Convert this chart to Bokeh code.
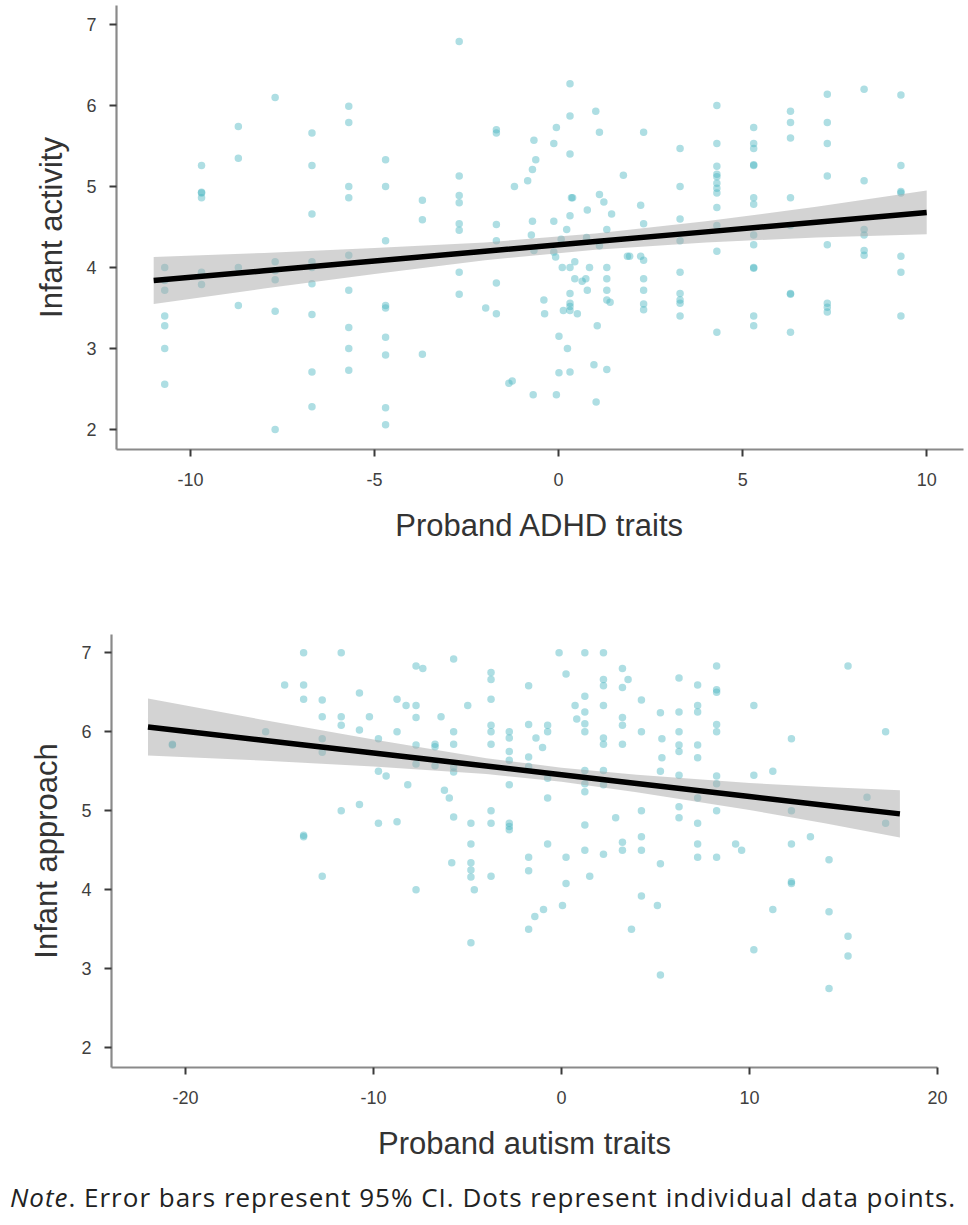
from bokeh.plotting import figure
from bokeh.models import Range1d, FixedTicker, Div
from bokeh.embed import file_html
from bokeh.resources import INLINE

# ---------------- data: panel 1 (ADHD traits vs infant activity) ----------------
adhd_x = (
    [-10.7] * 7 + [-9.7] * 6 + [-8.7] * 4 + [-7.7] * 6 + [-6.7] * 9 + [-5.7] * 9
    + [-4.7] * 9 + [-3.7] * 3 + [-2.7] * 8
    + [-1.98, -1.69, -1.69, -1.69, -1.69, -1.69, -1.69,
       -1.35, -1.26, -1.20, -0.84, -0.71, -0.67, -0.62, -0.71, -0.74, -0.67, -0.69,
       -0.40, -0.38, -0.13, -0.06, -0.13, -0.13, -0.08, -0.06,
       0.01, 0.01, 0.07, 0.10, 0.13, 0.22, 0.24,
       0.31, 0.31, 0.31, 0.35, 0.38, 0.31, 0.31, 0.31, 0.31, 0.31, 0.31, 0.31,
       0.44, 0.44, 0.51, 0.64, 0.74, 0.76, 0.78, 0.78, 0.84,
       0.96, 1.01, 1.02, 1.05, 1.11, 1.11, 1.11, 1.23,
       1.31, 1.31, 1.31, 1.31, 1.31, 1.31, 1.40, 1.44,
       1.76, 1.87, 1.93, 2.23, 2.23,
       2.31, 2.31, 2.31, 2.31, 2.31, 2.31, 2.31]
    + [3.3] * 9 + [4.3] * 12 + [5.3] * 13 + [6.3] * 8 + [7.3] * 8 + [8.3] * 6 + [9.3] * 7
)
activity_y = (
    [4.00, 3.84, 3.72, 3.40, 3.28, 3.00, 2.56]
    + [5.26, 4.93, 4.92, 4.86, 3.94, 3.79]
    + [5.74, 5.35, 4.00, 3.53]
    + [6.10, 4.07, 3.96, 3.85, 3.46, 2.00]
    + [5.66, 5.26, 4.66, 4.07, 4.00, 3.80, 3.42, 2.71, 2.28]
    + [5.99, 5.79, 5.00, 4.86, 4.15, 3.72, 3.26, 3.00, 2.73]
    + [5.33, 5.00, 4.33, 3.53, 3.50, 3.14, 2.92, 2.27, 2.06]
    + [4.83, 4.59, 2.93]
    + [6.79, 5.13, 4.89, 4.80, 4.54, 4.46, 3.94, 3.67]
    + [3.50, 5.70, 5.66, 4.53, 4.33, 3.81, 3.43,
       2.57, 2.60, 5.00, 5.07, 5.21, 5.57, 5.33, 4.57, 4.40, 4.21, 2.43,
       3.60, 3.43, 5.53, 5.73, 4.57, 4.19, 4.13, 2.43,
       3.15, 2.70, 4.35, 4.00, 3.47, 4.47, 3.00,
       6.27, 5.87, 5.40, 4.86, 4.86, 4.64, 4.00, 3.68, 3.56, 3.52, 3.47, 2.71,
       4.07, 3.86, 3.43, 3.83, 3.86, 4.37, 4.71, 3.72, 4.00,
       2.80, 5.93, 2.34, 3.28, 5.67, 4.90, 4.27, 4.81,
       4.47, 4.00, 3.86, 3.72, 3.60, 2.74, 3.57, 4.66,
       5.14, 4.14, 4.14, 4.77, 4.14,
       5.67, 4.54, 4.09, 3.86, 3.72, 3.55, 3.48]
    + [5.47, 5.00, 4.60, 4.33, 3.94, 3.68, 3.60, 3.56, 3.40]
    + [6.00, 5.53, 5.25, 5.15, 5.12, 5.04, 4.98, 4.92, 4.74, 4.52, 4.20, 3.20]
    + [5.73, 5.53, 5.47, 5.27, 5.26, 4.86, 4.78, 4.40, 4.28, 4.00, 3.99, 3.40, 3.28]
    + [5.93, 5.79, 5.60, 4.86, 4.52, 3.68, 3.67, 3.20]
    + [6.14, 5.79, 5.53, 5.13, 4.28, 3.56, 3.51, 3.45]
    + [6.20, 5.07, 4.47, 4.40, 4.21, 4.15]
    + [6.13, 5.26, 4.94, 4.92, 4.14, 3.94, 3.40]
)

# fitted line and 95% CI band
fit1_x = [-11, -8, -5, -2, 1, 4, 7, 10]
fit1_y = [3.84, 3.96, 4.08, 4.20, 4.32, 4.44, 4.56, 4.68]
fit1_lo = [3.55, 3.74, 3.92, 4.09, 4.22, 4.31, 4.37, 4.41]
fit1_hi = [4.13, 4.18, 4.24, 4.31, 4.42, 4.57, 4.75, 4.95]

# ---------------- data: panel 2 (autism traits vs infant approach) ----------------
autism_x = [
    -20.7, -20.7, -15.74, -14.73,
    -13.72, -13.72, -13.72, -13.72, -13.72,
    -12.73, -12.73, -12.73, -12.73, -12.73,
    -11.72, -11.72, -11.72, -11.72,
    -10.75, -10.75, -10.75, -10.22,
    -9.74, -9.74, -9.74, -9.33,
    -8.75, -8.75, -8.75, -8.27, -8.18,
    -7.74, -7.74, -7.74, -7.74, -7.74, -7.74, -7.38,
    -6.73, -6.73, -6.73, -6.41, -6.23, -5.97,
    -5.74, -5.74, -5.74, -5.74, -5.74, -5.74, -5.84,
    -4.99,
    -4.82, -4.82, -4.82, -4.82, -4.82, -4.82, -4.64,
    -3.75, -3.75, -3.75, -3.75, -3.75, -3.75, -3.75, -3.75, -3.75,
    -2.78, -2.78, -2.78, -2.78, -2.78, -2.78, -2.78, -2.78,
    -1.75, -1.75, -1.75, -1.75, -1.75, -1.75, -1.75,
    -1.42, -0.96, -1.36, -1.01,
    -0.74, -0.74, -0.74, -0.74, -0.74,
    -0.13, 0.05, 0.24, 0.24, 0.24, 0.72, 0.81,
    1.24, 1.24, 1.24, 1.24, 1.24, 1.24, 1.24, 1.24, 1.24, 1.24,
    1.50,
    2.23, 2.23, 2.23, 2.23, 2.23, 2.23, 2.23, 2.23, 2.23,
    2.88,
    3.24, 3.24, 3.24, 3.24, 3.24, 3.24, 3.24,
    3.54, 3.72,
    4.25, 4.25, 4.25, 4.25, 4.25, 4.25,
    5.10, 5.26, 5.26, 5.26, 5.26, 5.34, 5.34,
    6.25, 6.25, 6.25, 6.25, 6.25, 6.25, 6.25, 6.25,
    7.24, 7.24, 7.24, 7.24, 7.24, 7.24, 7.24, 7.24, 7.24,
    8.25, 8.25, 8.25, 8.25, 8.25, 8.25, 8.25, 8.25, 8.25,
    9.26, 9.58,
    10.23, 10.23, 10.23, 11.24, 11.24,
    12.23, 12.23, 12.23, 12.23, 12.23,
    13.24, 14.23, 14.23, 14.23,
    15.24, 15.24, 15.24, 16.25, 17.24, 17.24,
]
approach_y = [
    5.83, 5.84, 6.00, 6.59,
    7.00, 6.59, 6.41, 4.69, 4.67,
    6.40, 6.19, 5.91, 5.74, 4.17,
    7.00, 6.19, 6.08, 5.00,
    6.49, 6.02, 5.08, 6.19,
    5.91, 5.50, 4.84, 5.44,
    6.41, 6.00, 4.86, 6.33, 5.33,
    6.83, 6.33, 6.18, 5.83, 5.59, 4.00, 6.80,
    5.84, 5.81, 5.57, 6.19, 5.26, 5.16,
    6.92, 6.00, 5.84, 5.55, 5.49, 4.92, 4.34,
    6.33,
    4.84, 4.58, 4.34, 4.25, 4.16, 3.33, 4.00,
    6.75, 6.66, 6.41, 6.08, 6.00, 5.84, 5.00, 4.84, 4.17,
    6.00, 5.92, 5.75, 5.64, 5.33, 4.84, 4.80, 4.76,
    6.58, 6.09, 5.68, 5.56, 4.41, 4.24, 3.50,
    3.66, 3.75, 5.92, 5.80,
    6.08, 6.00, 5.41, 5.16, 4.58,
    7.00, 3.80, 6.73, 4.41, 4.08, 6.33, 6.16,
    7.00, 6.45, 6.25, 6.10, 6.00, 5.51, 5.34, 5.24, 4.82, 4.50,
    4.17,
    7.00, 6.66, 6.58, 6.33, 5.92, 5.84, 5.51, 5.33, 4.45,
    4.91,
    6.80, 6.56, 6.18, 6.08, 5.84, 4.60, 4.50,
    6.66, 3.50,
    6.40, 6.00, 5.00, 4.67, 4.50, 3.92,
    3.80, 6.24, 5.50, 4.33, 2.92, 5.91, 5.67,
    6.68, 6.25, 6.00, 5.83, 5.75, 5.45, 5.05, 4.91,
    6.59, 6.33, 6.25, 5.83, 5.67, 5.16, 4.84, 4.58, 4.41,
    6.83, 6.53, 6.50, 6.09, 6.00, 5.44, 5.34, 5.00, 4.41,
    4.58, 4.50,
    6.33, 5.45, 3.24, 5.50, 3.75,
    5.91, 5.00, 4.58, 4.08, 4.10,
    4.67, 4.38, 3.72, 2.75,
    6.83, 3.41, 3.16, 5.17, 6.00, 4.84,
]

fit2_x = [-22, -16, -10, -4, 0, 4, 10, 14, 18]
fit2_y = [6.06, 5.895, 5.73, 5.565, 5.455, 5.345, 5.18, 5.07, 4.96]
fit2_lo = [5.70, 5.635, 5.56, 5.465, 5.365, 5.235, 5.01, 4.84, 4.66]
fit2_hi = [6.42, 6.155, 5.90, 5.665, 5.545, 5.455, 5.35, 5.30, 5.26]

adhd_ticks = [-10, -5, 0, 5, 10]
autism_ticks = [-20, -10, 0, 10, 20]
y_ticks = [2, 3, 4, 5, 6, 7]

DOT = "#4bb6c0"
FONT = "Liberation Sans"


def style(p, xticks):
    p.outline_line_color = None
    p.xgrid.visible = False
    p.ygrid.visible = False
    p.xaxis.ticker = FixedTicker(ticks=xticks)
    p.yaxis.ticker = FixedTicker(ticks=y_ticks)
    p.xaxis.major_label_overrides = {t: str(t) for t in xticks}
    for ax in (p.xaxis[0], p.yaxis[0]):
        ax.axis_line_color = "#8a8a8a"
        ax.axis_line_width = 2.2
        ax.major_tick_line_color = "#3a3a3a"
        ax.major_tick_line_width = 2
        ax.major_tick_out = 7
        ax.major_tick_in = 0
        ax.minor_tick_out = 0
        ax.minor_tick_in = 0
        ax.major_label_text_font = FONT
        ax.major_label_text_font_size = "18px"
        ax.major_label_text_color = "#3f3f3f"
        ax.axis_label_text_font = FONT
        ax.axis_label_text_font_style = "normal"
        ax.axis_label_text_color = "#333333"
    p.xaxis.axis_label_text_font_size = "31px"
    p.yaxis.axis_label_text_font_size = "31px"
    p.xaxis.major_label_standoff = 16
    p.xaxis.axis_label_standoff = 19
    p.yaxis.major_label_standoff = 13
    p.yaxis.axis_label_standoff = 14


# ---------------- panel 1 ----------------
p1 = figure(width=965, height=560, output_backend="svg", toolbar_location=None,
            x_range=Range1d(-12.01, 11.0), y_range=Range1d(1.753, 7.235),
            min_border_left=116, min_border_right=2, min_border_top=5,
            min_border_bottom=111, x_axis_label="Proband ADHD traits",
            y_axis_label="Infant activity")
p1.scatter(adhd_x, activity_y, size=7.5, fill_color=DOT, fill_alpha=0.45, line_color=None)
p1.varea(x=fit1_x, y1=fit1_lo, y2=fit1_hi, fill_color="#a8a8a8", fill_alpha=0.5)
p1.line(fit1_x, fit1_y, line_color="black", line_width=5.5)
style(p1, adhd_ticks)

# ---------------- panel 2 ----------------
p2 = figure(width=965, height=610, output_backend="svg", toolbar_location=None,
            x_range=Range1d(-23.94, 20.0), y_range=Range1d(1.75, 7.23),
            min_border_left=111, min_border_right=28, min_border_top=74,
            min_border_bottom=103, x_axis_label="Proband autism traits",
            y_axis_label="Infant approach")
p2.scatter(autism_x, approach_y, size=7.5, fill_color=DOT, fill_alpha=0.45, line_color=None)
p2.varea(x=fit2_x, y1=fit2_lo, y2=fit2_hi, fill_color="#a8a8a8", fill_alpha=0.5)
p2.line(fit2_x, fit2_y, line_color="black", line_width=5.5)
style(p2, autism_ticks)

note = Div(text="<i>Note</i>. Error bars represent 95% CI. Dots represent individual data points.",
           width=965, margin=(11, 0, 0, 10),
           styles={"font-family": "Open Sans", "font-size": "26px", "color": "#222222",
                   "line-height": "1.3", "white-space": "nowrap", "letter-spacing": "1px"})

open("out.html", "w").write(file_html([p1, p2, note], INLINE))
